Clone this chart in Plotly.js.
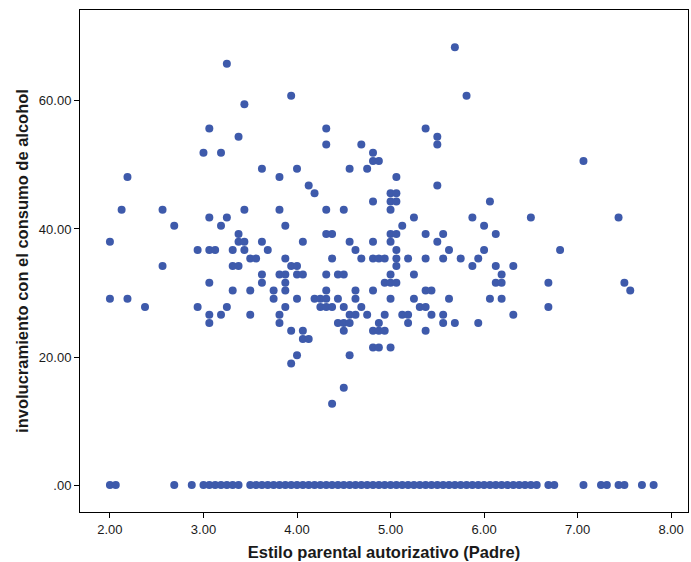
<!DOCTYPE html>
<html>
<head>
<meta charset="utf-8">
<script src="https://cdn.plot.ly/plotly-3.0.1.min.js"></script>
<style>
html,body{margin:0;padding:0;background:#fff;}
#chart{width:691px;height:562px;}
</style>
</head>
<body>
<div id="chart"></div>
<script>
// Points with non-zero involvement (x = Estilo parental autorizativo (Padre), y = involucramiento)
var xNonZero = [
3.25,3.0625,3.375,3.0,3.1875,3.4375,3.9375,4.3125,4.3125,4.6875,4.8125,4.8125,4.875,5.6875,5.8125,5.375,5.5,5.5,7.0625,
2.1875,2.125,2.5625,2.6875,3.0625,3.25,3.1875,3.375,3.375,2.0,2.9375,3.0625,3.125,3.3125,2.5625,3.3125,3.375,
3.625,3.8125,4.0,4.125,4.1875,4.5625,4.75,4.8125,5.0,5.0,5.0,3.4375,3.8125,4.3125,4.5,3.875,4.3125,4.375,5.0,
3.4375,3.625,4.0625,4.5625,4.8125,5.0,3.4375,3.6875,4.625,3.5,3.5625,3.875,4.375,4.6875,4.8125,4.875,4.9375,3.9375,4.0,
5.0625,5.0625,5.0625,5.5,6.0625,5.25,5.875,6.5,5.125,6.0,5.0625,5.375,5.5625,6.125,5.5,5.0625,5.625,6.0,
5.0625,5.1875,5.375,5.5625,5.75,5.9375,5.0625,5.875,6.125,6.3125,
7.4375,6.8125,
3.0625,3.3125,2.0,2.1875,2.375,2.9375,3.25,3.0625,3.1875,3.0625,
3.625,3.8125,3.875,4.0,4.0625,4.3125,4.4375,4.5,5.0,3.625,3.875,4.9375,5.0,
3.5,3.75,3.875,4.3125,4.625,4.8125,3.75,4.0,4.1875,4.25,4.3125,4.4375,4.625,5.0,
3.875,4.25,4.3125,4.375,4.5,4.6875,3.5,3.8125,4.5625,4.625,4.75,4.9375,
3.8125,4.4375,4.5,4.5625,4.875,3.9375,4.0625,4.5,4.8125,4.875,4.9375,
4.0625,4.125,4.8125,4.875,4.0,4.5625,3.9375,4.5,4.375,
5.25,6.1875,5.0625,6.125,6.1875,5.375,5.4375,5.25,5.625,6.0625,6.1875,5.3125,5.375,
5.125,5.1875,5.4375,5.5625,6.3125,5.1875,5.5625,5.6875,5.9375,5.375,5.0,
6.6875,6.6875,7.5,7.5625
];
var yNonZero = [
65.8,55.7,54.4,51.9,51.9,59.5,60.8,55.7,53.2,53.2,51.9,50.6,50.6,68.4,60.8,55.7,54.4,53.2,50.6,
48.1,43.0,43.0,40.5,41.8,41.8,40.5,39.2,38.0,38.0,36.7,36.7,36.7,36.7,34.2,34.2,34.2,
49.4,48.1,49.4,46.8,45.6,49.4,49.4,44.3,45.6,44.3,43.0,43.0,43.0,43.0,43.0,40.5,39.2,39.2,39.2,
38.0,38.0,38.0,38.0,38.0,38.0,36.7,36.7,36.7,35.4,35.4,35.4,35.4,35.4,35.4,35.4,35.4,34.2,34.2,
48.1,45.6,44.3,46.8,44.3,41.8,41.8,41.8,40.5,40.5,39.2,39.2,39.2,39.2,38.0,36.7,36.7,36.7,
35.4,35.4,35.4,35.4,35.4,35.4,34.2,34.2,34.2,34.2,
41.8,36.7,
31.6,30.4,29.1,29.1,27.8,27.8,27.8,26.6,26.6,25.3,
32.9,32.9,32.9,32.9,32.9,32.9,32.9,32.9,32.9,31.6,31.6,31.6,31.6,
30.4,30.4,30.4,30.4,30.4,30.4,29.1,29.1,29.1,29.1,29.1,29.1,29.1,29.1,
27.8,27.8,27.8,27.8,27.8,27.8,26.6,26.6,26.6,26.6,26.6,26.6,
25.3,25.3,25.3,25.3,25.3,24.1,24.1,24.1,24.1,24.1,24.1,
22.8,22.8,21.5,21.5,20.3,20.3,19.0,15.2,12.7,
32.9,32.9,31.6,31.6,31.6,30.4,30.4,29.1,29.1,29.1,29.1,27.8,27.8,
26.6,26.6,26.6,26.6,26.6,25.3,25.3,25.3,25.3,24.1,21.5,
31.6,27.8,31.6,30.4
];
// Points with zero involvement
var xZero = [
2.0,2.0625,2.6875,2.875,3.0,3.0625,3.125,3.1875,3.25,3.3125,3.375,
3.5,3.5625,3.625,3.6875,3.75,3.8125,3.875,3.9375,4.0,4.0625,4.125,4.1875,4.25,4.3125,4.375,4.4375,
4.5,4.5625,4.625,4.6875,4.75,4.8125,4.875,4.9375,5.0,5.0625,5.125,5.1875,5.25,5.3125,5.375,5.4375,
5.5,5.5625,5.625,5.6875,5.75,5.8125,5.875,5.9375,6.0,
6.0625,6.125,6.1875,6.25,6.3125,6.375,6.4375,6.5,6.5625,
6.6875,6.75,7.0625,7.25,7.3125,7.4375,7.5,7.6875,7.8125
];
var yZero = xZero.map(function(){ return 0; });

var xTickVals = [2,3,4,5,6,7,8];
var xTickText = ["2.00","3.00","4.00","5.00","6.00","7.00","8.00"];
var yTickVals = [0,20,40,60];
var yTickText = [".00","20.00","40.00","60.00"];

var markerStyle = {color:'#3e5aab', size:8, line:{width:0}};
var traces = [
  {x:xNonZero, y:yNonZero, type:'scatter', mode:'markers', marker:markerStyle, hoverinfo:'x+y'},
  {x:xZero, y:yZero, type:'scatter', mode:'markers', marker:markerStyle, hoverinfo:'x+y'}
];

var fontFam = '"Liberation Sans", Arial, sans-serif';
var layout = {
  width:691, height:562,
  margin:{l:80, r:3, t:10, b:50},
  paper_bgcolor:'#fff', plot_bgcolor:'#fff',
  showlegend:false,
  font:{family:fontFam, size:13, color:'#1a1a1a'},
  xaxis:{
    range:[1.68, 8.18],
    tickvals:xTickVals, ticktext:xTickText,
    ticks:'outside', ticklen:5, tickcolor:'#000',
    showgrid:false, zeroline:false,
    showline:true, linecolor:'#000', linewidth:1, mirror:true,
    tickfont:{family:fontFam, size:13, color:'#1a1a1a'},
    title:{text:'Estilo parental autorizativo (Padre)', font:{family:fontFam, size:16.5, color:'#1a1a1a', weight:'bold'}, standoff:10}
  },
  yaxis:{
    range:[-4.2, 74.2],
    tickvals:yTickVals, ticktext:yTickText,
    ticks:'outside', ticklen:5, tickcolor:'#000',
    showgrid:false, zeroline:false,
    showline:true, linecolor:'#000', linewidth:1, mirror:true,
    tickfont:{family:fontFam, size:13, color:'#1a1a1a'},
    title:{text:'involucramiento con el consumo de alcohol', font:{family:fontFam, size:16.5, color:'#1a1a1a', weight:'bold'}, standoff:6}
  }
};
Plotly.newPlot('chart', traces, layout, {displayModeBar:false, staticPlot:true});
</script>
</body>
</html>
